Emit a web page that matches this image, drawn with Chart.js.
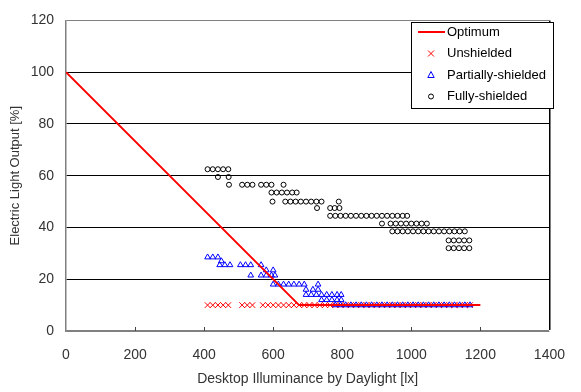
<!DOCTYPE html>
<html>
<head>
<meta charset="utf-8">
<script src="https://cdn.jsdelivr.net/npm/chart.js@4/dist/chart.umd.min.js"></script>
<style>
  html, body { margin: 0; padding: 0; background: #fff; }
  #wrap { width: 581px; height: 392px; }
</style>
</head>
<body>
<div id="wrap"><canvas id="chart" width="581" height="392"></canvas></div>
<script>
// Optimum dimming line
const optimumX = [0, 675, 1200];
const optimumY = [100, 10, 10];

// Unshielded (all at 10 %)
const unshieldedX = [410, 425, 440, 455, 470, 510, 525, 540, 570, 585, 600, 615, 630, 645, 660,
  675, 690, 705, 720, 735, 750, 765, 780, 795, 810, 825, 840, 855, 870, 885, 900, 915, 930,
  945, 960, 975, 990, 1005, 1020, 1035, 1050, 1065, 1080, 1095, 1110, 1125, 1140, 1155, 1170];
const unshieldedY = [10, 10, 10, 10, 10, 10, 10, 10, 10, 10, 10, 10, 10, 10, 10,
  10, 10, 10, 10, 10, 10, 10, 10, 10, 10, 10, 10, 10, 10, 10, 10, 10, 10,
  10, 10, 10, 10, 10, 10, 10, 10, 10, 10, 10, 10, 10, 10, 10, 10];

// Partially-shielded
const partialX = [410, 425, 440, 450, 445, 460, 475, 505, 520, 535, 565, 580, 600,
  535, 565, 580, 595, 605, 600, 615, 630, 645, 660, 675, 690, 730, 695, 715, 730,
  695, 710, 725, 740, 755, 770, 785, 797, 740, 755, 770, 785, 797,
  780, 795, 810, 825, 840, 855, 870, 885, 900, 915, 930, 945, 960, 975, 990, 1005,
  1020, 1035, 1050, 1065, 1080, 1095, 1110, 1125, 1140, 1155, 1170];
const partialY = [28.5, 28.5, 28.5, 27, 25.5, 25.5, 25.5, 25.5, 25.5, 25.5, 25.5, 23.5, 23.5,
  21.5, 21.5, 21.5, 21.5, 21.5, 18, 18, 18, 18, 18, 18, 18, 18, 16, 16, 16,
  14, 14, 14, 14, 14, 14, 14, 14, 12, 12, 12, 12, 12,
  10, 10, 10, 10, 10, 10, 10, 10, 10, 10, 10, 10, 10, 10, 10, 10,
  10, 10, 10, 10, 10, 10, 10, 10, 10, 10, 10];

// Fully-shielded
const fullX = [410, 425, 440, 455, 470, 440, 471,
  472, 510, 525, 540, 565, 580, 595, 630,
  595, 610, 625, 640, 655, 668,
  598, 635, 650, 665, 680, 695, 710, 725, 740, 790,
  727, 765, 778, 792,
  765, 780, 795, 810, 825, 840, 855, 870, 885, 900, 915, 930, 945, 960, 975, 988,
  915, 940, 955, 970, 985, 1000, 1015, 1030, 1045,
  945, 960, 975, 990, 1005, 1020, 1035, 1050, 1065, 1080, 1095, 1110, 1125, 1140, 1155,
  1108, 1123, 1138, 1153, 1168,
  1108, 1123, 1138, 1153, 1168];
const fullY = [62.5, 62.5, 62.5, 62.5, 62.5, 59.5, 59.5,
  56.5, 56.5, 56.5, 56.5, 56.5, 56.5, 56.5, 56.5,
  53.5, 53.5, 53.5, 53.5, 53.5, 53.5,
  50, 50, 50, 50, 50, 50, 50, 50, 50, 50,
  47.5, 47.5, 47.5, 47.5,
  44.5, 44.5, 44.5, 44.5, 44.5, 44.5, 44.5, 44.5, 44.5, 44.5, 44.5, 44.5, 44.5, 44.5, 44.5, 44.5,
  41.5, 41.5, 41.5, 41.5, 41.5, 41.5, 41.5, 41.5, 41.5,
  38.5, 38.5, 38.5, 38.5, 38.5, 38.5, 38.5, 38.5, 38.5, 38.5, 38.5, 38.5, 38.5, 38.5, 38.5,
  35, 35, 35, 35, 35,
  32, 32, 32, 32, 32];

const xTicks = [0, 200, 400, 600, 800, 1000, 1200, 1400];
const yTicks = [0, 20, 40, 60, 80, 100, 120];

const FONT = 'Liberation Sans, Arial, sans-serif';
const TEXT = '#333';

function pairs(xs, ys) {
  return xs.map((x, i) => ({ x: x, y: ys[i] }));
}

// inward tick marks on the x axis
const innerTicks = {
  id: 'innerTicks',
  afterDatasetsDraw(chart) {
    const ctx = chart.ctx;
    const xs = chart.scales.x;
    const bottom = chart.chartArea.bottom;
    ctx.save();
    ctx.strokeStyle = '#444';
    ctx.lineWidth = 1;
    xs.ticks.forEach(t => {
      if (t.value <= xs.min || t.value >= xs.max) return;
      const px = Math.round(xs.getPixelForValue(t.value)) + 0.5;
      ctx.beginPath();
      ctx.moveTo(px, bottom);
      ctx.lineTo(px, bottom - 4);
      ctx.stroke();
    });
    ctx.restore();
  }
};

// small hollow legend symbols
function legendSymbol(ctx, style, cx, cy) {
  ctx.beginPath();
  if (style === 'crossRot') {
    ctx.moveTo(cx - 3, cy - 3); ctx.lineTo(cx + 3, cy + 3);
    ctx.moveTo(cx + 3, cy - 3); ctx.lineTo(cx - 3, cy + 3);
  } else if (style === 'triangle') {
    ctx.moveTo(cx, cy - 3.5); ctx.lineTo(cx + 3.2, cy + 2.5); ctx.lineTo(cx - 3.2, cy + 2.5);
    ctx.closePath();
  } else {
    ctx.arc(cx, cy, 2.5, 0, Math.PI * 2);
  }
  ctx.stroke();
}

// boxed legend in the top right corner
const boxLegend = {
  id: 'boxLegend',
  afterDraw(chart) {
    const ctx = chart.ctx;
    const left = 411, top = 22, w = 142, h = 86;
    ctx.save();
    ctx.fillStyle = '#fff';
    ctx.fillRect(left, top, w, h);
    ctx.strokeStyle = '#000';
    ctx.lineWidth = 1;
    ctx.strokeRect(left + 0.5, top + 0.5, w, h);
    ctx.font = '13px ' + FONT;
    ctx.textBaseline = 'middle';
    chart.data.datasets.forEach((ds, i) => {
      const cy = top + 10 + i * 21.5;
      ctx.strokeStyle = ds.borderColor;
      if (ds.showLine) {
        ctx.lineWidth = 2;
        ctx.beginPath();
        ctx.moveTo(left + 7, cy);
        ctx.lineTo(left + 34, cy);
        ctx.stroke();
      } else {
        ctx.lineWidth = 1;
        legendSymbol(ctx, ds.pointStyle, left + 20, cy);
      }
      ctx.fillStyle = '#000';
      ctx.fillText(ds.label, left + 36, cy);
    });
    ctx.restore();
  }
};

new Chart(document.getElementById('chart'), {
  type: 'scatter',
  data: {
    datasets: [{
      label: 'Optimum',
      data: pairs(optimumX, optimumY),
      showLine: true,
      borderColor: '#ff0000',
      borderWidth: 2,
      pointRadius: 0,
      order: 0
    }, {
      label: 'Unshielded',
      data: pairs(unshieldedX, unshieldedY),
      pointStyle: 'crossRot',
      pointRadius: 4,
      borderColor: '#ff0000',
      borderWidth: 1,
      order: 3
    }, {
      label: 'Partially-shielded',
      data: pairs(partialX, partialY),
      pointStyle: 'triangle',
      pointRadius: 3.3,
      borderColor: '#0000ff',
      backgroundColor: 'rgba(0,0,0,0)',
      borderWidth: 1,
      order: 2
    }, {
      label: 'Fully-shielded',
      data: pairs(fullX, fullY),
      pointStyle: 'circle',
      pointRadius: 2.5,
      borderColor: '#000',
      backgroundColor: 'rgba(0,0,0,0)',
      borderWidth: 1,
      order: 1
    }]
  },
  options: {
    responsive: false,
    animation: false,
    events: [],
    layout: { padding: { top: 11, right: 16, left: 0, bottom: 0 } },
    plugins: {
      legend: { display: false },
      tooltip: { enabled: false }
    },
    scales: {
      x: {
        type: 'linear',
        min: 0,
        max: 1400,
        afterBuildTicks: s => { s.ticks = xTicks.map(v => ({ value: v })); },
        afterFit: s => { s.height = 61; },
        ticks: {
          color: TEXT, font: { family: FONT, size: 14 }, padding: 16, maxRotation: 0,
          callback: v => String(v)
        },
        grid: {
          drawTicks: false,
          color: c => (c.tick && c.tick.value === 1400) ? '#000' : 'rgba(0,0,0,0)',
          lineWidth: c => (c.tick && c.tick.value === 1400) ? 1.5 : 0
        },
        border: { display: true, color: '#808080', width: 1.5 },
        title: {
          display: true,
          text: 'Desktop Illuminance by Daylight [lx]',
          color: TEXT,
          font: { family: FONT, size: 14 },
          padding: { top: 0, bottom: 4 }
        }
      },
      y: {
        min: 0,
        max: 120,
        afterBuildTicks: s => { s.ticks = yTicks.map(v => ({ value: v })); },
        afterFit: s => { s.width = 66; },
        ticks: {
          color: TEXT, font: { family: FONT, size: 14 }, padding: 12,
          callback: v => String(v)
        },
        grid: {
          drawTicks: false,
          color: c => {
            const v = c.tick ? c.tick.value : 0;
            return (v === 0 || v === 120) ? '#808080' : '#000';
          },
          lineWidth: 1
        },
        border: { display: true, color: '#808080', width: 1.5 },
        title: {
          display: true,
          text: 'Electric Light Output [%]',
          color: TEXT,
          font: { family: FONT, size: 13 },
          padding: { top: 8, bottom: 0 }
        }
      }
    }
  },
  plugins: [innerTicks, boxLegend]
});
</script>
</body>
</html>
